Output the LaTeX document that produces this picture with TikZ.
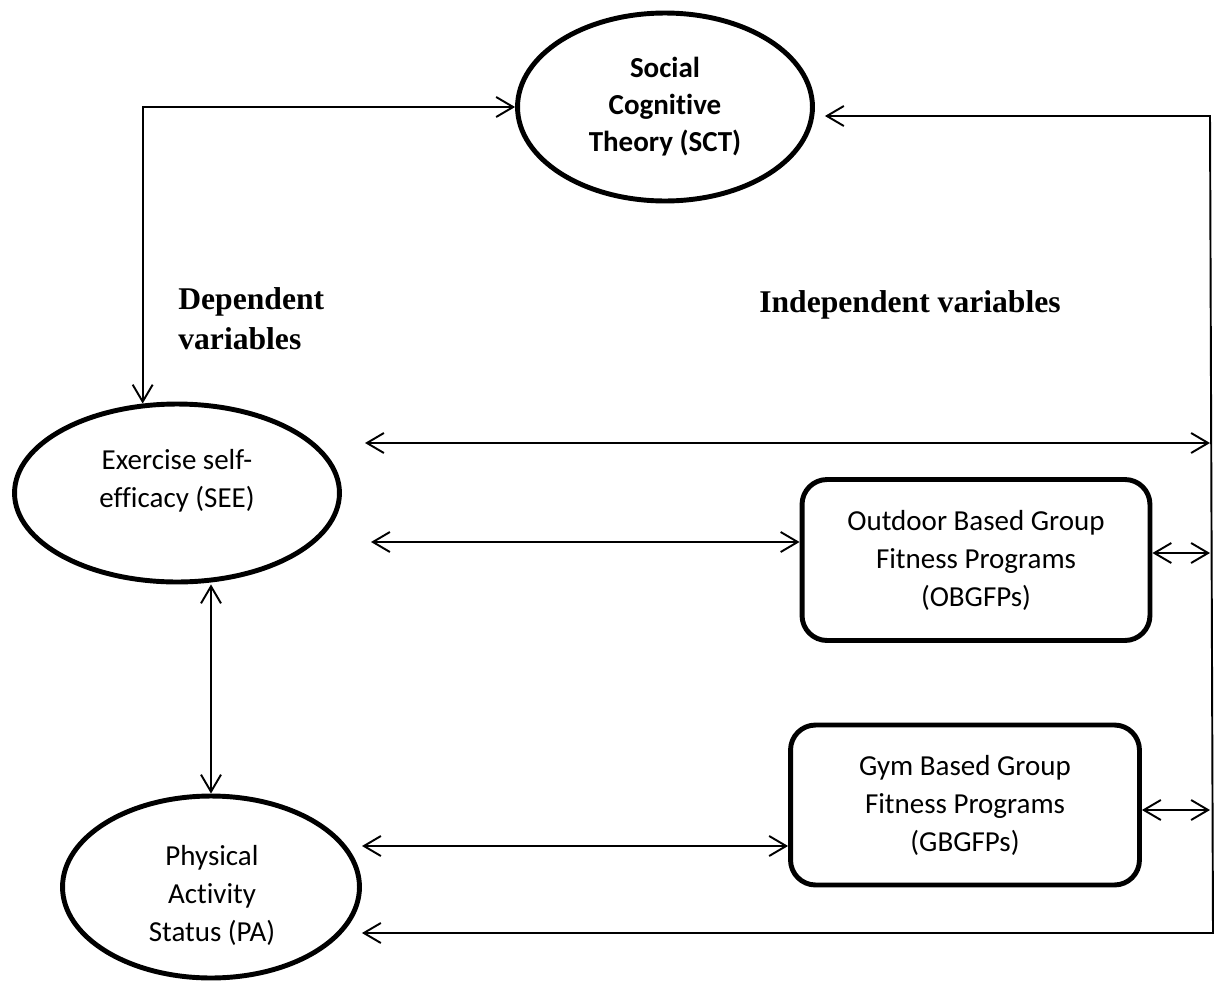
\documentclass[tikz,border=0pt]{standalone}
\usepackage{fontspec}
\newfontfamily\bodyfont[Ligatures=NoCommon]{Carlito}
\newfontfamily\headfont{Liberation Serif}
\usetikzlibrary{arrows.meta,positioning,shapes.geometric}
\tikzset{
  oval/.style={draw, ellipse, line width=2.8pt, inner sep=0pt},
  prog/.style={draw, rectangle, rounded corners=0.5cm, line width=2.8pt, inner sep=0pt, align=center, font=\bodyfont\fontsize{16.5}{21.6}\selectfont},
  txt/.style={align=center, inner sep=0pt, font=\bodyfont\fontsize{16.5}{21.6}\selectfont},
  heading/.style={align=left, inner sep=0pt, font=\headfont\bfseries\fontsize{18}{22.8}\selectfont},
  link/.style={{Straight Barb[length=0.34cm,width=0.4cm]}-{Straight Barb[length=0.34cm,width=0.4cm]}, line width=1.1pt}
}
\begin{document}
\begin{tikzpicture}[x=0.02cm, y=-0.02cm]
\useasboundingbox (0,0) rectangle (1221,984);
% theory
\node[oval, minimum width=5.9cm, minimum height=3.76cm, align=center, font=\bodyfont\bfseries\fontsize{16.5}{21}\selectfont] (SCT) at (665,107) {Social\\Cognitive\\Theory (SCT)};
% dependent variables
\node[oval, minimum width=6.5cm, minimum height=3.56cm] (SEE) at (177,493) {};
\node[txt] (SEEtxt) at (177,481) {Exercise self-\\efficacy (SEE)};
\node[oval, minimum width=5.94cm, minimum height=3.64cm] (PA) at (211,887) {};
\node[txt] (PAtxt) at (212,895) {Physical\\Activity\\Status (PA)};
% independent variables
\node[prog, minimum width=6.96cm, minimum height=3.22cm] (OBG) at (976,560) {Outdoor Based Group\\Fitness Programs\\(OBGFPs)};
\node[prog, minimum width=6.98cm, minimum height=3.2cm] (GBG) at (965,805) {Gym Based Group\\Fitness Programs\\(GBGFPs)};
\node[heading, anchor=west] (dep) at (178,319) {Dependent\\variables};
\node[heading, anchor=west] (indep) at (759,305) {Independent variables};
% right hand line and free ends
\coordinate (rt) at (1210,116);
\coordinate (rb) at (1213,933);
\coordinate (e1) at (365,443);
\coordinate (e2) at (371,542);
\coordinate (e3) at (362,846);
% links
\draw[link] (SCT.west) -| (SEE.111);
\draw[link, shorten <=0.2cm] (SCT.east |- rt) -- (rt) -- (rb) -- (rb -| PA.east);
\draw[link] (e1) -- (e1 -| rt);
\draw[link] (e2) -- (e2 -| OBG.west);
\draw[link] ([yshift=0.14cm]OBG.east) coordinate (oR) -- (oR -| rt);
\draw[link] (e3) -- (e3 -| GBG.west);
\draw[link] ([yshift=-0.1cm]GBG.east) coordinate (gR) -- (gR -| rt);
\draw[link] (PA.north |- SEE.south) -- (PA.north);
\end{tikzpicture}
\end{document}
